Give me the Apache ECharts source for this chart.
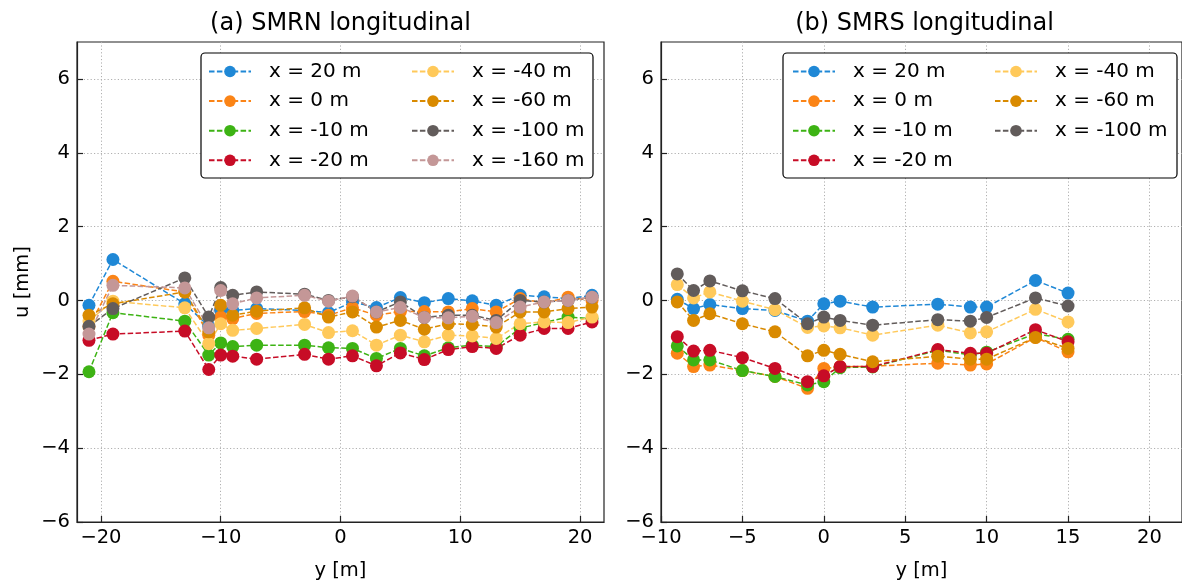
<!DOCTYPE html>
<html>
<head>
<meta charset="utf-8">
<script src="https://cdn.jsdelivr.net/npm/echarts@6/dist/echarts.min.js"></script>
<style>html,body{margin:0;padding:0;background:#fff}#c{width:1182px;height:586px}</style>
</head>
<body>
<div id="c"></div>
<script>
// ---------- data ----------
const seriesNames = ['x = 20 m','x = 0 m','x = -10 m','x = -20 m','x = -40 m','x = -60 m','x = -100 m','x = -160 m'];
const seriesColors = ['#1f88d6','#fb8416','#3db314','#c70c26','#ffc95a','#d98a00','#625c5b','#c49797'];

// (a) SMRN
const yA = [-21,-19,-13,-11,-10,-9,-7,-3,-1,1,3,5,7,9,11,13,15,17,19,21];
const a_x20   = [-0.13,1.11,-0.09,-0.70,-0.27,-0.27,-0.22,-0.27,-0.33,-0.04,-0.19,0.08,-0.06,0.05,-0.01,-0.13,0.14,0.10,0.05,0.14];
const a_x0    = [-0.71,0.52,0.23,-0.94,-0.45,-0.49,-0.35,-0.30,-0.40,-0.20,-0.40,-0.30,-0.30,-0.31,-0.22,-0.31,0.05,-0.07,0.09,0.00];
const a_xm10  = [-1.93,-0.33,-0.56,-1.48,-1.15,-1.25,-1.21,-1.21,-1.28,-1.30,-1.57,-1.30,-1.50,-1.28,-1.21,-1.25,-0.75,-0.60,-0.45,-0.49];
const a_xm20  = [-1.08,-0.91,-0.83,-1.87,-1.48,-1.51,-1.59,-1.46,-1.59,-1.50,-1.77,-1.42,-1.60,-1.33,-1.25,-1.30,-0.94,-0.76,-0.76,-0.58];
const a_xm40  = [-0.55,-0.02,-0.20,-1.17,-0.63,-0.81,-0.76,-0.65,-0.87,-0.82,-1.21,-0.94,-1.12,-0.94,-0.96,-1.03,-0.63,-0.58,-0.60,-0.45];
const a_xm60  = [-0.40,-0.09,0.23,-0.85,-0.13,-0.40,-0.29,-0.20,-0.45,-0.31,-0.72,-0.54,-0.78,-0.63,-0.65,-0.72,-0.31,-0.31,-0.22,-0.18];
const a_xm100 = [-0.70,-0.22,0.61,-0.45,0.35,0.14,0.23,0.17,0.00,0.10,-0.31,-0.04,-0.46,-0.40,-0.40,-0.54,0.00,-0.04,0.00,0.09];
const a_xm160 = [-0.91,0.41,0.34,-0.74,0.27,-0.09,0.07,0.14,-0.02,0.12,-0.31,-0.19,-0.46,-0.47,-0.43,-0.60,-0.18,-0.04,0.00,0.09];

// (b) SMRS
const yB = [-9,-8,-7,-5,-3,-1,0,1,3,7,9,10,13,15];
const b_x20   = [0.03,-0.22,-0.11,-0.22,-0.27,-0.56,-0.09,-0.02,-0.18,-0.10,-0.18,-0.18,0.54,0.20];
const b_x0    = [-1.43,-1.79,-1.75,-1.90,-2.06,-2.38,-1.84,-1.80,-1.78,-1.70,-1.75,-1.72,-1.00,-1.39];
const b_xm10  = [-1.23,-1.61,-1.61,-1.90,-2.06,-2.29,-2.20,-1.82,-1.80,-1.35,-1.47,-1.40,-0.90,-1.05];
const b_xm20  = [-0.98,-1.37,-1.35,-1.55,-1.84,-2.20,-2.04,-1.79,-1.79,-1.33,-1.43,-1.43,-0.79,-1.12];
const b_xm40  = [0.43,0.07,0.23,-0.02,-0.25,-0.73,-0.69,-0.74,-0.94,-0.67,-0.88,-0.85,-0.24,-0.58];
const b_xm60  = [-0.04,-0.54,-0.36,-0.63,-0.85,-1.50,-1.35,-1.46,-1.66,-1.51,-1.59,-1.59,-1.00,-1.30];
const b_xm100 = [0.72,0.27,0.53,0.26,0.05,-0.63,-0.45,-0.54,-0.67,-0.52,-0.56,-0.46,0.07,-0.15];

const xTicksA = [-20,-10,0,10,20];
const xTicksB = [-10,-5,0,5,10,15,20];
const yTicks = [-6,-4,-2,0,2,4,6];

const titles = ['(a) SMRN longitudinal','(b) SMRS longitudinal'];
const xName = 'y [m]';
const yName = 'u [mm]';

// ---------- chart ----------
const FONT = 'DejaVu Sans';
const fmt = v => String(v).replace('-', '\u2212');
const panelA = [a_x20,a_x0,a_xm10,a_xm20,a_xm40,a_xm60,a_xm100,a_xm160];
const panelB = [b_x20,b_x0,b_xm10,b_xm20,b_xm40,b_xm60,b_xm100];

function xAxis(idx, min, max, ticks) {
  return {
    type:'value', gridIndex: idx, min, max,
    name: xName, nameLocation:'middle', nameGap: 39,
    nameTextStyle:{fontFamily:FONT,fontSize:19.5,color:'#000'},
    axisLine:{show:true,onZero:false,lineStyle:{color:'#222',width:1.2}},
    axisTick:{show:true,inside:true,length:6,customValues:ticks,lineStyle:{color:'#222',width:1.2}},
    axisLabel:{customValues:ticks,formatter:fmt,margin:6,fontFamily:FONT,fontSize:19.5,color:'#000'},
    splitLine:{show:true,lineStyle:{color:'#b0b0b0',width:1,type:[1.2,2.2]}}
  };
}
function yAxis(idx, named) {
  return {
    type:'value', gridIndex: idx, min:-6, max:7,
    name: named ? yName : '', nameLocation:'middle', nameGap: 44, nameRotate: 90,
    nameTextStyle:{fontFamily:FONT,fontSize:19.5,color:'#000'},
    axisLine:{show:true,onZero:false,lineStyle:{color:'#222',width:1.2}},
    axisTick:{show:true,inside:true,length:6,customValues:yTicks,lineStyle:{color:'#222',width:1.2}},
    axisLabel:{customValues:yTicks,formatter:fmt,margin:7,fontFamily:FONT,fontSize:19.5,color:'#000'},
    splitLine:{show:true,lineStyle:{color:'#b0b0b0',width:1,type:[1.2,2.2]}}
  };
}

const series = [];
panelA.forEach((vals,i)=>{
  series.push({
    name: seriesNames[i], type:'line', xAxisIndex:0, yAxisIndex:0,
    data: yA.map((y,k)=>[y, vals[k]]),
    symbol:'circle', symbolSize:13, color: seriesColors[i],
    lineStyle:{width:1.5,type:[5.5,2.4],color:seriesColors[i]},
    itemStyle:{color:seriesColors[i]}, animation:false
  });
});
panelB.forEach((vals,i)=>{
  series.push({
    name: seriesNames[i], type:'line', xAxisIndex:1, yAxisIndex:1,
    data: yB.map((y,k)=>[y, vals[k]]),
    symbol:'circle', symbolSize:13, color: seriesColors[i],
    lineStyle:{width:1.5,type:[5.5,2.4],color:seriesColors[i]},
    itemStyle:{color:seriesColors[i]}, animation:false
  });
});

function legend(left, names) {
  return {
    orient:'vertical', left, top:61.5, padding:0, itemGap:9.6,
    itemWidth:42, itemHeight:14.5, selectedMode:false,
    data: names,
    textStyle:{fontFamily:FONT,fontSize:20,color:'#000',lineHeight:20,padding:[0,0,0,13]}
  };
}

const option = {
  backgroundColor:'#fff',
  animation:false,
  title: [
    {text:titles[0], left:340.5, top:12, textAlign:'center', padding:0,
     textStyle:{fontFamily:FONT,fontSize:24,fontWeight:'normal',color:'#000'}},
    {text:titles[1], left:924.5, top:12, textAlign:'center', padding:0,
     textStyle:{fontFamily:FONT,fontSize:24,fontWeight:'normal',color:'#000'}}
  ],
  grid: [
    {left:77, top:42, width:527, height:482, show:true, borderColor:'#222', borderWidth:1.2, backgroundColor:'transparent'},
    {left:661, top:42, width:527, height:482, show:true, borderColor:'#222', borderWidth:1.2, backgroundColor:'transparent'}
  ],
  xAxis: [xAxis(0,-22,22,xTicksA), xAxis(1,-10,22,xTicksB)],
  yAxis: [yAxis(0,true), yAxis(1,false)],
  legend: [
    legend(208, seriesNames.slice(0,4)),
    legend(411, seriesNames.slice(4,8)),
    legend(792, seriesNames.slice(0,4)),
    legend(994, seriesNames.slice(4,7))
  ],
  graphic: [
    {type:'rect', z:3, shape:{x:201,y:53,width:392,height:125,r:4}, style:{fill:'#fff',stroke:'#000',lineWidth:1.2}},
    {type:'rect', z:3, shape:{x:783,y:53,width:394,height:125,r:4}, style:{fill:'#fff',stroke:'#000',lineWidth:1.2}}
  ],
  series
};
const chart = echarts.init(document.getElementById('c'), null, {renderer:'canvas'});
chart.setOption(option);
</script>
</body>
</html>
